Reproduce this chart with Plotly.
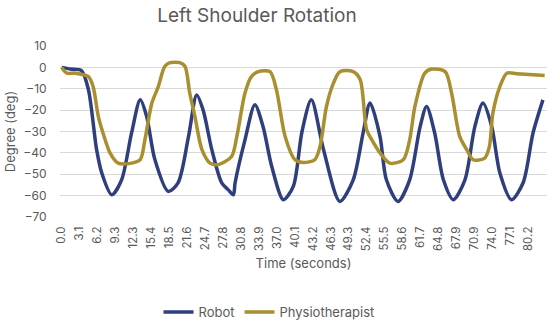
import plotly.graph_objects as go

# Robot trace (time in seconds, angle in degrees)
robot_t = [0.0, 1.5, 3.4, 4.6, 6.0, 6.9, 8.6, 10.3, 12.0, 13.5, 14.6, 16.0, 18.3, 20.0,
           21.8, 23.2, 24.3, 25.8, 27.5, 28.6, 29.5, 29.8, 31.5, 33.2, 34.6, 36.1, 38.1,
           39.8, 41.3, 42.9, 45.0, 47.8, 50.1, 51.8, 53.0, 54.7, 55.8, 57.8, 59.8, 61.6,
           62.7, 64.1, 65.6, 67.3, 69.3, 71.0, 72.4, 73.9, 75.3, 77.3, 79.3, 81.0, 82.7]
robot_v = [0.0, -0.8, -1.5, -10.5, -38.5, -49.5, -59.6, -52.6, -30.8, -15.2, -23.0, -43.0, -58.0, -54.0,
           -32.3, -12.9, -19.9, -38.5, -54.0, -57.2, -59.6, -54.0, -33.9, -17.5, -27.7, -46.4, -61.9,
           -55.7, -30.0, -15.2, -38.5, -62.7, -52.6, -30.6, -16.7, -32.3, -52.6, -62.7, -52.6, -27.7,
           -18.3, -30.7, -52.6, -61.9, -52.6, -27.7, -16.7, -27.7, -49.4, -61.9, -54.0, -30.7, -15.2]

# Physiotherapist trace
physio_t = [0.0, 0.9, 2.3, 4.6, 5.4, 6.3, 7.1, 8.3, 9.7, 12.0, 13.5, 14.3, 15.5, 16.6, 17.7,
            18.6, 20.3, 21.2, 22.0, 22.9, 24.1, 25.5, 26.9, 29.2, 30.1, 31.5, 32.6, 33.8, 35.8,
            36.9, 38.4, 40.1, 41.5, 43.5, 44.4, 45.5, 46.7, 47.8, 50.1, 51.3, 52.4, 53.3, 54.7,
            56.4, 58.7, 59.8, 60.7, 62.4, 63.6, 65.9, 67.0, 68.4, 69.6, 70.7, 72.7, 73.5, 74.1,
            75.3, 76.5, 78.2, 81.0, 83.0]
physio_v = [0.0, -2.7, -2.7, -4.3, -9.0, -23.0, -30.7, -40.0, -44.8, -44.8, -43.2, -33.9, -16.7, -9.0, 0.4,
            2.2, 2.2, 0.4, -12.0, -23.0, -38.5, -44.8, -45.5, -41.7, -32.3, -12.0, -4.3, -2.0, -2.0,
            -10.5, -32.3, -43.2, -44.5, -43.2, -37.0, -18.3, -7.4, -2.0, -2.0, -5.8, -29.2, -33.9, -40.0,
            -44.8, -43.2, -33.9, -18.3, -2.7, -0.8, -2.0, -12.0, -32.3, -38.5, -43.2, -42.4, -37.0, -21.4,
            -9.0, -2.7, -3.0, -3.5, -3.8]

# Category tick labels (every 37th sample at 12 Hz)
tick_step = 37 / 12
tick_labels = ["0.0", "3.1", "6.2", "9.3", "12.3", "15.4", "18.5", "21.6", "24.7", "27.8",
               "30.8", "33.9", "37.0", "40.1", "43.2", "46.3", "49.3", "52.4", "55.5", "58.6",
               "61.7", "64.8", "67.9", "70.9", "74.0", "77.1", "80.2"]
tick_vals = [i * tick_step for i in range(len(tick_labels))]

FONT = "Inter, Open Sans, sans-serif"
GREY = "#595959"

fig = go.Figure()
fig.add_trace(go.Scatter(x=robot_t, y=robot_v, mode="lines", name="Robot",
                         line=dict(color="#2F3F7E", width=3.5, shape="spline", smoothing=0.8)))
fig.add_trace(go.Scatter(x=physio_t, y=physio_v, mode="lines", name="Physiotherapist",
                         line=dict(color="#A98F2F", width=3.5, shape="spline", smoothing=0.8)))

fig.update_layout(
    width=550, height=324,
    margin=dict(l=60, r=3, t=46, b=107, autoexpand=False),
    paper_bgcolor="white", plot_bgcolor="white",
    font=dict(family=FONT, color=GREY, size=12),
    title=dict(text="Left Shoulder Rotation", x=257/550, xref="container", xanchor="center",
               y=1 - 15/324, yref="container", yanchor="middle", automargin=False,
               font=dict(size=19, color=GREY, family=FONT)),
    showlegend=True,
    legend=dict(orientation="h", xref="container", yref="container", x=269/550, y=1 - 312/324,
                xanchor="center", yanchor="middle", font=dict(size=13, color=GREY),
                itemwidth=30, tracegroupgap=0),
    xaxis=dict(range=[-0.29, 83.4], tickmode="array", tickvals=tick_vals, ticktext=tick_labels,
               tickangle=-90, showgrid=False, zeroline=False, showline=False, automargin=False,
               ticks="outside", ticklen=4, tickcolor="rgba(0,0,0,0)",
               tickfont=dict(size=11.5, color=GREY),
               title=dict(text="Time (seconds)", font=dict(size=13, color=GREY), standoff=8)),
    yaxis=dict(range=[-70, 10], tickmode="linear", tick0=-70, dtick=10, automargin=False,
               showgrid=True, gridcolor="#D9D9D9", gridwidth=1, zeroline=False, showline=False,
               ticks="outside", ticklen=10, tickcolor="rgba(0,0,0,0)",
               tickfont=dict(size=12, color=GREY),
               title=dict(text="Degree (deg)", font=dict(size=13, color=GREY), standoff=4)),
)

fig.write_html("out.html", config={"displayModeBar": False},
               post_script="document.body.style.margin='0';document.body.style.overflow='hidden';")
